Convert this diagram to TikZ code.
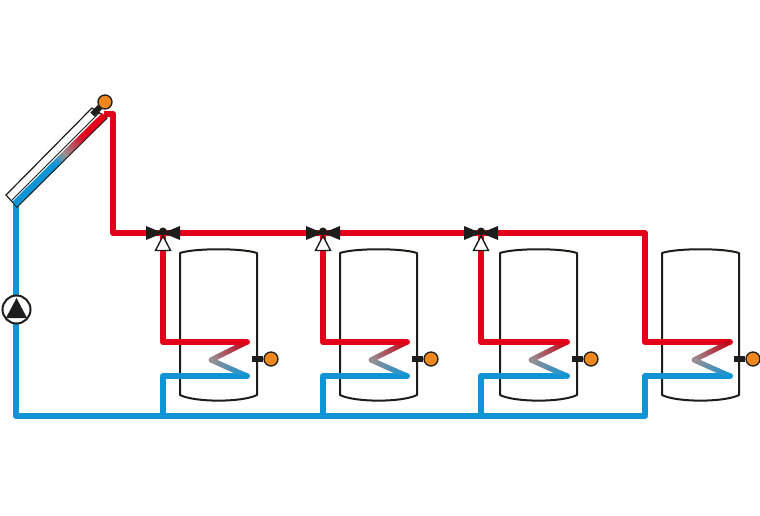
\documentclass[tikz,border=0pt]{standalone}
\usetikzlibrary{calc}
\definecolor{pipered}{HTML}{E2001A}
\definecolor{pipeblue}{HTML}{0F94D6}
\definecolor{midgrey}{HTML}{9A8E90}
\definecolor{sensorfill}{HTML}{F0861E}
\definecolor{ink}{HTML}{1D1D1B}
\tikzset{
  hot/.style={draw=pipered,line width=6pt,line join=round},
  cold/.style={draw=pipeblue,line width=6pt,line join=round},
  tankline/.style={draw=ink,line width=2pt,line join=round},
  sensornode/.style={circle,draw=ink,line width=1.3pt,fill=sensorfill,minimum size=14pt,inner sep=0pt},
  stem/.style={draw=ink,line width=6pt},
  pumpnode/.style={circle,draw=ink,line width=2pt,fill=white,minimum size=28pt,inner sep=0pt},
}
% gradient stroke: \gradseg{from}{to}{colour A}{colour B}{width}
\newcommand{\gradseg}[5]{%
  \foreach \gi in {0,...,23}{%
    \pgfmathsetmacro{\gp}{100-100*\gi/23}%
    \pgfmathsetmacro{\ga}{\gi/24}%
    \pgfmathsetmacro{\gb}{min(1,(\gi+1.5)/24)}%
    \colorlet{gcol}{#3!\gp!#4}%
    \draw[gcol,line width=#5] ($(#1)!\ga!(#2)$) -- ($(#1)!\gb!(#2)$);%
  }%
}
\begin{document}
\begin{tikzpicture}[x=1pt,y=-1pt]
\useasboundingbox (0,0) rectangle (760,515);
\fill[white] (0,0) rectangle (760,515);

% junctions of the pipework
\coordinate (colTop) at (104,114);
\coordinate (hotA) at (113,114);
\coordinate (hotB) at (113,233);
\coordinate (hotEnd) at (645,233);
\coordinate (coldA) at (16,204);
\coordinate (coldB) at (16,416);
\coordinate (coldEnd) at (645,416);

% tanks
\foreach \tx/\n in {0/1,160/2,320/3,482/4}{
  \begin{scope}[shift={(\tx,0)}]
    \draw[tankline] (180,253) .. controls (195,248) and (242,248) .. (257,253)
      -- (257,395) .. controls (242,402.5) and (195,402.5) .. (180,395) -- cycle;
  \end{scope}
}

% cold main and hot main
\draw[cold] (coldA) -- (coldB) -- (coldEnd) -- ++(0,-40) -- ++(85,0);
\foreach \vx in {163,323,481}{
  \coordinate (cb) at (\vx,416);
  \draw[cold] (cb) -- ++(0,-40) -- ++(84,0);
}
\draw[hot] (colTop) -- (hotA) -- (hotB) -- (hotEnd) -- ++(0,109) -- ++(85,0);

% branches with coils
\foreach \vx/\cx in {163/247,323/407,481/567,645/730}{
  \coordinate (cl1) at (\cx,342);
  \coordinate (cl2) at (\cx-36,360);
  \coordinate (cl3) at (\cx,376);
  \fill[pipered] (cl1) circle (3pt);
  \fill[pipeblue] (cl3) circle (3pt);
  \gradseg{cl1}{cl2}{pipered!85!black}{midgrey}{5pt}
  \gradseg{cl2}{cl3}{midgrey}{pipeblue}{5pt}
  \fill[midgrey] (cl2) circle (2.5pt);
}
\foreach \vx/\cx in {163/247,323/407,481/567}{
  \coordinate (vv) at (\vx,233);
  \coordinate (vc) at (\vx,342);
  \draw[hot] (vv) -- (vc) -- (\cx,342);
}

% three-way valves
\foreach \vx/\n in {163/1,323/2,481/3}{
  \begin{scope}[shift={(\vx,233)}]
    \coordinate (valve\n) at (0,0);
    \fill[ink] (-17,-7) -- (0,0) -- (17,-7) -- (17,7) -- (0,0) -- (-17,7) -- cycle;
    \fill[ink] (0,-1.5) circle (4pt);
    \draw[ink,line width=1.4pt,fill=white,line join=miter] (0,3) -- (7.5,17.5) -- (-7.5,17.5) -- cycle;
  \end{scope}
}

% tank sensors
\foreach \tx/\n in {0/1,160/2,320/3,482/4}{
  \node[sensornode] (sensor\n) at (271+\tx,359) {};
  \coordinate (stem\n) at (252+\tx,359);
  \draw[stem] (stem\n) -- (sensor\n.west);
}

% collector
\coordinate (fa) at (6,195);
\coordinate (fb) at (92,108);
\coordinate (fc) at (107,118);
\coordinate (fd) at (17,207);
\draw[ink,line width=1.2pt,fill=white,line join=miter] (fa) -- (fb) -- (fc) -- (fd) -- cycle;
\coordinate (ab0) at (15,204);
\coordinate (ab1) at ($(ab0)!0.46!(104.5,115.5)$);
\coordinate (ab2) at ($(ab0)!0.56!(104.5,115.5)$);
\coordinate (ab3) at ($(ab0)!0.78!(104.5,115.5)$);
\coordinate (ab4) at (104.5,115.5);
\draw[pipeblue,line width=7pt] (ab0) -- (ab1);
\gradseg{ab1}{ab2}{pipeblue}{midgrey}{7pt}
\gradseg{ab2}{ab3}{midgrey}{pipered}{7pt}
\draw[pipered,line width=7pt] (ab3) -- (ab4);
\draw[ink,line width=1pt] (12,200) -- (100,112);
\draw[ink,line width=0.6pt] (17.5,206.5) -- (107,118);

% collector sensor
\coordinate (cstemA) at (92.5,114.5);
\coordinate (cstemB) at (100,107);
\draw[ink,line width=6pt] (cstemA) -- (cstemB);
\node[sensornode] (csensor) at (105,102) {};

% pump
\node[pumpnode] (pump) at (16.5,309.5) {};
\fill[ink] (16.5,298) -- (27,318) -- (6,318) -- cycle;
\end{tikzpicture}
\end{document}
